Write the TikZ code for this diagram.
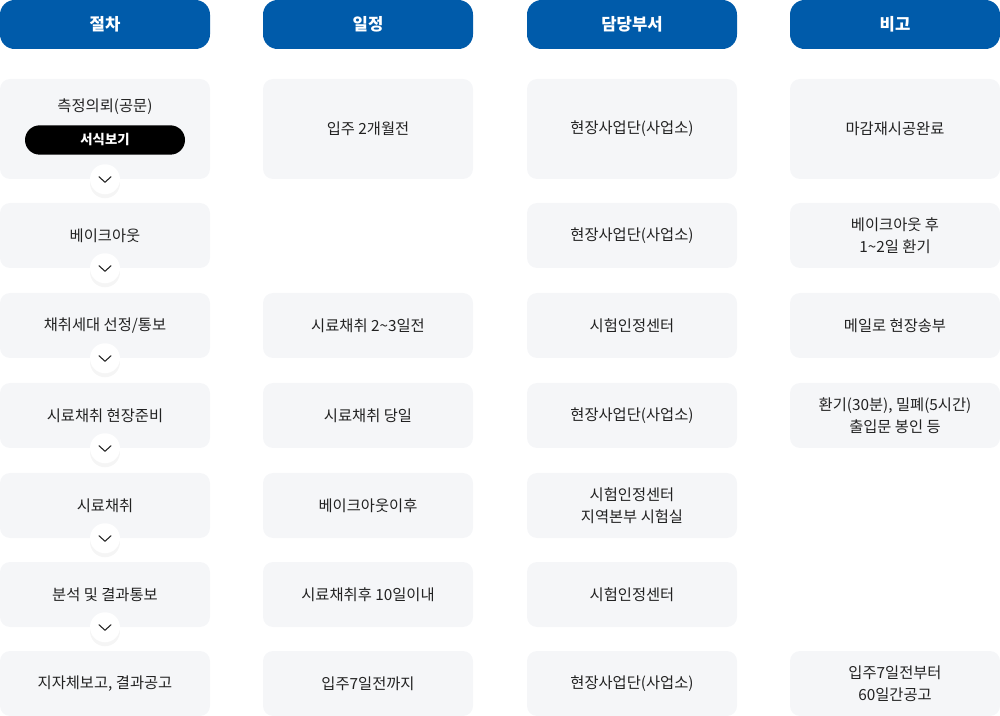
\documentclass[tikz,border=0pt]{standalone}
\usepackage{fontspec}
\setmainfont{Noto Sans CJK KR}
\usetikzlibrary{shadows}
\definecolor{hdblue}{HTML}{005BAA}
\definecolor{cellgray}{HTML}{F5F6F8}
\definecolor{txtgray}{HTML}{222222}

\begin{document}
\begin{tikzpicture}[x=0.75pt,y=-0.75pt,
  head/.style={fill=hdblue, text=white, rounded corners=11pt, minimum width=157.5pt,
    minimum height=36.75pt, inner sep=0, font=\bfseries\fontsize{12.5}{14}\selectfont},
  cell/.style={fill=cellgray, text=txtgray, rounded corners=7.5pt, minimum width=157.5pt,
    minimum height=48.75pt, inner sep=0, align=center, font=\fontsize{11.5}{16.5}\selectfont},
  tall/.style={minimum height=75pt},
  pill/.style={fill=black, text=white, rounded corners=11pt, minimum width=120pt,
    minimum height=22pt, inner sep=0, font=\bfseries\fontsize{10}{11}\selectfont},
  chev/.style={circle, fill=white, minimum size=22.5pt, inner sep=0,
    drop shadow={opacity=0.08, shadow xshift=0pt, shadow yshift=-3pt}}]
\useasboundingbox (0,0) rectangle (1000,716);

% Headers
\node[head] (hdProc) at (105,24.5) {절차};
\node[head] (hdSched) at (368,24.5) {일정};
\node[head] (hdDept) at (632,24.5) {담당부서};
\node[head] (hdNote) at (895,24.5) {비고};

% Procedure column
\node[cell,tall] (proc1) at (105,129) {};
\node[cell,fill=none] (proc1txt) at (105,107) {측정의뢰(공문)};
\node[pill] (form) at (105,140) {서식보기};
\node[cell] (proc2) at (105,235.5) {베이크아웃};
\node[cell] (proc3) at (105,325.5) {채취세대 선정/통보};
\node[cell] (proc4) at (105,415.5) {시료채취 현장준비};
\node[cell] (proc5) at (105,505.5) {시료채취};
\node[cell] (proc6) at (105,594.5) {분석 및 결과통보};
\node[cell] (proc7) at (105,683.5) {지자체보고, 결과공고};

% Schedule column
\node[cell,tall] (sched1) at (368,129) {입주 2개월전};
\node[cell] (sched3) at (368,325.5) {시료채취 2\textasciitilde3일전};
\node[cell] (sched4) at (368,415.5) {시료채취 당일};
\node[cell] (sched5) at (368,505.5) {베이크아웃이후};
\node[cell] (sched6) at (368,594.5) {시료채취후 10일이내};
\node[cell] (sched7) at (368,683.5) {입주7일전까지};

% Department column
\node[cell,tall] (dept1) at (632,129) {현장사업단(사업소)};
\node[cell] (dept2) at (632,235.5) {현장사업단(사업소)};
\node[cell] (dept3) at (632,325.5) {시험인정센터};
\node[cell] (dept4) at (632,415.5) {현장사업단(사업소)};
\node[cell] (dept5) at (632,505.5) {시험인정센터\\지역본부 시험실};
\node[cell] (dept6) at (632,594.5) {시험인정센터};
\node[cell] (dept7) at (632,683.5) {현장사업단(사업소)};

% Notes column
\node[cell,tall] (note1) at (895,129) {마감재시공완료};
\node[cell] (note2) at (895,235.5) {베이크아웃 후\\1\textasciitilde2일 환기};
\node[cell] (note3) at (895,325.5) {메일로 현장송부};
\node[cell] (note4) at (895,415.5) {환기(30분), 밀폐(5시간)\\출입문 봉인 등};
\node[cell] (note7) at (895,683.5) {입주7일전부터\\60일간공고};

% Step arrows
\foreach \i in {1,...,6} {
  \node[chev] (arr\i) at (proc\i.south) {};
  \draw[txtgray, line width=0.8pt, line cap=round, line join=round]
    (arr\i) ++(-6,-2.5) -- ++(6,5.5) -- ++(6,-5.5);
}
\end{tikzpicture}
\end{document}
